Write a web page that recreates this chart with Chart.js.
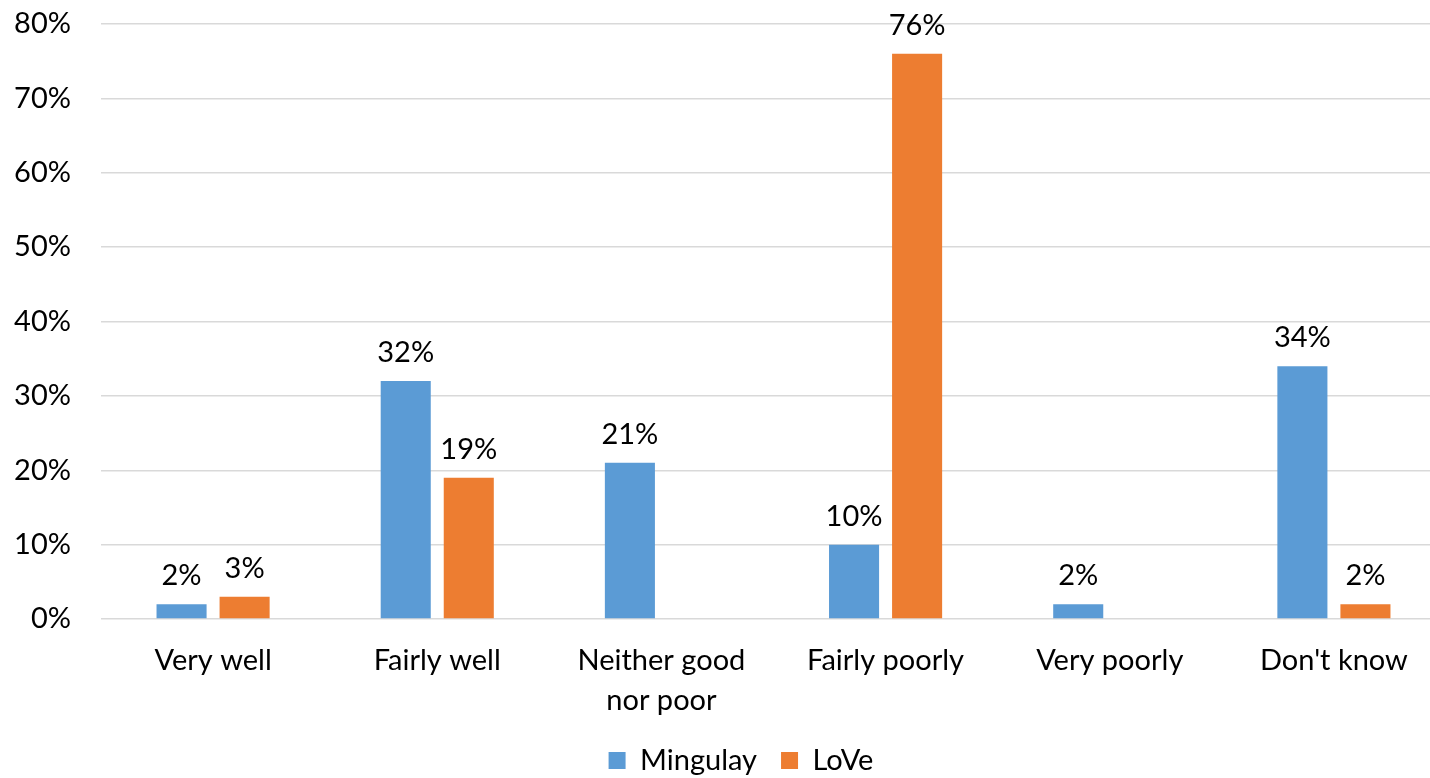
<!DOCTYPE html>
<html>
<head>
<meta charset="utf-8">
<script src="https://cdn.jsdelivr.net/npm/chart.js@4/dist/chart.umd.min.js"></script>
<style>
  html, body { margin: 0; padding: 0; background: #fff; overflow: hidden; }
  #wrap { position: relative; width: 1482px; height: 778px; }
</style>
</head>
<body>
<div id="wrap"><canvas id="answers"></canvas></div>
<script>
const categories = ['Very well', 'Fairly well', ['Neither good', 'nor poor'], 'Fairly poorly', 'Very poorly', "Don't know"];
const mingulay = [2, 32, 21, 10, 2, 34];
const love = [3, 19, null, 76, null, 2];
const yTicks = [0, 10, 20, 30, 40, 50, 60, 70, 80];

const FONT = 'Lato, "Open Sans", sans-serif';
const FONT_SIZE = 29;

// percentages above each bar
const barValues = {
  id: 'barValues',
  afterDatasetsDraw(chart) {
    const ctx = chart.ctx;
    ctx.save();
    ctx.font = FONT_SIZE + 'px ' + FONT;
    ctx.fillStyle = '#000';
    ctx.textAlign = 'center';
    ctx.textBaseline = 'alphabetic';
    chart.data.datasets.forEach((ds, i) => {
      chart.getDatasetMeta(i).data.forEach((bar, j) => {
        const v = ds.data[j];
        if (v === null || v === undefined) return;
        ctx.fillText(v + '%', bar.x, bar.y - 19);
      });
    });
    ctx.restore();
  },
};

// legend padding gives the gap between items; nudge the row afterwards
const legendShift = {
  id: 'legendShift',
  afterLayout(chart) {
    const lg = chart.legend;
    lg.top += 7;
    lg.bottom += 7;
    lg.left += 18;
    lg.right += 18;
  },
};

const chart = new Chart('answers', {
  type: 'bar',
  data: {
    labels: categories,
    datasets: [
      { label: 'Mingulay', data: mingulay, backgroundColor: '#5B9BD5' },
      { label: 'LoVe', data: love, backgroundColor: '#ED7D31' },
    ],
  },
  options: {
    responsive: true,
    maintainAspectRatio: false,
    animation: false,
    categoryPercentage: 0.5625,
    barPercentage: 0.794,
    layout: { padding: { top: 24, right: 36, left: 0, bottom: 0 } },
    plugins: {
      tooltip: { enabled: false },
      legend: {
        position: 'bottom',
        labels: {
          font: { size: FONT_SIZE, family: FONT, lineHeight: 0.75 },
          color: '#000',
          boxWidth: 17,
          boxHeight: 17,
          padding: 24,
        },
      },
    },
    scales: {
      x: {
        grid: { display: false },
        border: { display: false },
        ticks: {
          color: '#000',
          font: { size: FONT_SIZE, family: FONT, lineHeight: 1.38 },
          padding: 14,
          maxRotation: 0,
          autoSkip: false,
        },
        afterFit(scale) { scale.height = 96; },
      },
      y: {
        min: 0,
        max: 80,
        afterBuildTicks(scale) { scale.ticks = yTicks.map(v => ({ value: v })); },
        grid: { color: '#D9D9D9', lineWidth: 1.5, drawTicks: false },
        border: { display: false },
        ticks: {
          color: '#000',
          font: { size: FONT_SIZE, family: FONT },
          padding: 30,
          callback: v => v + '%',
        },
        afterFit(scale) {
          scale.width = 101;
          // tick padding would otherwise push the plot top down
          scale.paddingTop = 0;
          scale.paddingBottom = 0;
        },
      },
    },
  },
  plugins: [barValues, legendShift],
});
</script>
</body>
</html>
